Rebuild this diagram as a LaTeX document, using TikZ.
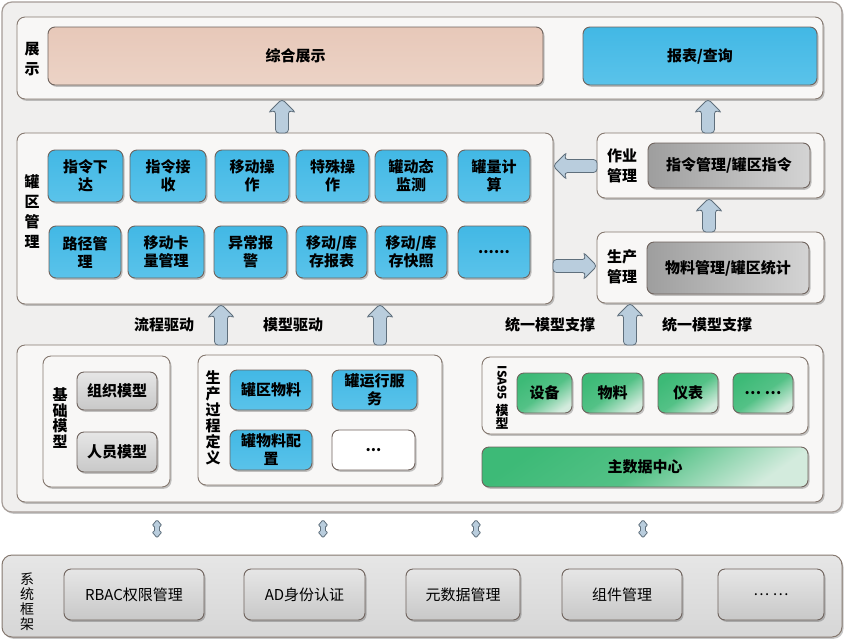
\documentclass[tikz,border=0pt]{standalone}
\usepackage{fontspec}
\setmainfont{Noto Sans CJK SC}
\usetikzlibrary{calc,shadows}
\definecolor{outerfill}{HTML}{F0EFEE}
\definecolor{outerdraw}{HTML}{A59C97}
\definecolor{contfill}{HTML}{F8F7F6}
\definecolor{contdraw}{HTML}{85786F}
\definecolor{btndraw}{HTML}{6F635D}
\definecolor{blueA}{HTML}{42B8E5}
\definecolor{blueB}{HTML}{5AC3EA}
\definecolor{peachA}{HTML}{E7C8B9}
\definecolor{peachB}{HTML}{ECD3C6}
\definecolor{dgrayA}{HTML}{9E9E9E}
\definecolor{dgrayB}{HTML}{D4D4D4}
\definecolor{lgrayA}{HTML}{E6E6E6}
\definecolor{lgrayB}{HTML}{C8C8C8}
\definecolor{greenA}{HTML}{3DBA77}
\definecolor{greenB}{HTML}{D3EBDD}
\definecolor{sysA}{HTML}{E6E6E6}
\definecolor{sysB}{HTML}{D6D6D6}
\definecolor{arrfill}{HTML}{B9CDDD}
\definecolor{arrdraw}{HTML}{5F6F7C}
\newcommand\bx[7]{\node[#2, minimum width={((#5)-(#3))*1pt}, minimum height={((#6)-(#4))*1pt}] (#1) at ({((#3)+(#5))/2},{((#4)+(#6))/2}) {#7};}
\newcommand\fatarrow[3][fatarr]{%
  \path let \p1=(#2), \p2=(#3) in \pgfextra{%
    \pgfmathsetmacro\faang{atan2(\y2-\y1,\x2-\x1)}%
    \pgfmathsetmacro\falen{veclen(\x2-\x1,\y2-\y1)}%
    \xdef\fxang{\faang}\xdef\fxlen{\falen}\xdef\fxx{\x1}\xdef\fxy{\y1}};
  \draw[#1, shift={(\fxx,\fxy)}, rotate=\fxang]
    (0pt,-6.5pt) -- ({\fxlen*1pt-11pt},-6.5pt) -- ({\fxlen*1pt-14pt},-14pt)
    -- (\fxlen pt,0pt) -- ({\fxlen*1pt-14pt},14pt) -- ({\fxlen*1pt-11pt},6.5pt)
    -- (0pt,6.5pt) -- cycle;
}
\newcommand\dblarrow[3][fatarr]{%
  \path let \p1=(#2), \p2=(#3) in \pgfextra{%
    \pgfmathsetmacro\faang{atan2(\y2-\y1,\x2-\x1)}%
    \pgfmathsetmacro\falen{veclen(\x2-\x1,\y2-\y1)}%
    \xdef\fxang{\faang}\xdef\fxlen{\falen}\xdef\fxx{\x1}\xdef\fxy{\y1}};
  \draw[#1, rounded corners=1.2pt, shift={(\fxx,\fxy)}, rotate=\fxang]
    (0pt,0pt) -- (6pt,-5pt) -- (6pt,-2.5pt) -- ({\fxlen*1pt-6pt},-2.5pt) -- ({\fxlen*1pt-6pt},-5pt)
    -- (\fxlen pt,0pt) -- ({\fxlen*1pt-6pt},5pt) -- ({\fxlen*1pt-6pt},2.5pt)
    -- (6pt,2.5pt) -- (6pt,5pt) -- cycle;
}
\tikzset{
  base/.style={rectangle, inner sep=0pt, outer sep=0pt, align=center, text=black,
    font=\fontsize{15}{18}\selectfont\bfseries},
  shad/.style={drop shadow={shadow xshift=1.5pt, shadow yshift=-1.8pt, fill=black, opacity=0.22}},
  outerbox/.style={base, draw=outerdraw, fill=outerfill, rounded corners=10pt, line width=1.2pt, shad},
  cont/.style={base, draw=contdraw, fill=contfill, rounded corners=8pt, line width=0.9pt, shad},
  sysbox/.style={base, draw=contdraw, top color=sysA, bottom color=sysB, rounded corners=10pt, line width=1pt, shad},
  btn/.style={base, draw=btndraw, rounded corners=7pt, line width=0.9pt, shad},
  bluebtn/.style={btn, top color=blueA, bottom color=blueB},
  peachbtn/.style={btn, top color=peachA, bottom color=peachB},
  dgraybtn/.style={btn, left color=dgrayA, right color=dgrayB},
  lgraybtn/.style={btn, top color=lgrayA, bottom color=lgrayB},
  whitebtn/.style={btn, fill=white},
  greenbtn/.style={btn, top color=greenA, bottom color=greenB, middle color=greenA!85!greenB, shading angle=35},
  sysbtn/.style={btn, top color=lgrayA, bottom color=lgrayB, font=\fontsize{15}{18}\selectfont},
  lbl/.style={inner sep=0pt, align=center, text=black, font=\fontsize{15}{20}\selectfont\bfseries},
  fatarr/.style={draw=arrdraw, fill=arrfill, line width=0.8pt, rounded corners=3.5pt},
}
\begin{document}
\begin{tikzpicture}[x=1pt,y=-1pt]
\useasboundingbox (0,0) rectangle (847,641);
\fill[white] (0,0) rectangle (847,641);
% outer frame
\bx{outer}{outerbox}{2}{2}{842}{512}{}
% display layer
\bx{zs}{cont}{17}{17}{823}{99}{}
\node[lbl] (zsl) at (32,59) {展\\示};
\bx{zhzs}{peachbtn}{48}{27}{543}{85}{综合展示}
\bx{bbcx}{bluebtn}{583}{27}{817}{85}{报表/查询}
% tank area management
\bx{gq}{cont}{17}{133}{553}{304}{}
\node[lbl] (gql) at (32,212) {罐\\区\\管\\理};
\bx{b11}{bluebtn}{48}{150}{123}{202}{指令下\\达}
\bx{b12}{bluebtn}{130}{150}{206}{202}{指令接\\收}
\bx{b13}{bluebtn}{215}{150}{289}{202}{移动操\\作}
\bx{b14}{bluebtn}{296}{150}{369}{202}{特殊操\\作}
\bx{b15}{bluebtn}{375}{150}{447}{202}{罐动态\\监测}
\bx{b16}{bluebtn}{458}{150}{530}{202}{罐量计\\算}
\bx{b21}{bluebtn}{49}{226}{121}{278}{路径管\\理}
\bx{b22}{bluebtn}{128}{226}{204}{278}{移动卡\\量管理}
\bx{b23}{bluebtn}{214}{226}{287}{278}{异常报\\警}
\bx{b24}{bluebtn}{296}{226}{367}{278}{移动/库\\存报表}
\bx{b25}{bluebtn}{375}{226}{447}{278}{移动/库\\存快照}
\bx{b26}{bluebtn}{458}{226}{530}{278}{......}
% operation / production management
\bx{zy}{cont}{597}{133}{824}{198}{}
\node[lbl] (zyl) at (622,166) {作业\\管理};
\bx{zyb}{dgraybtn}{648}{143}{810}{188}{指令管理/罐区指令}
\bx{sc}{cont}{597}{232}{824}{303}{}
\node[lbl] (scl) at (622,267) {生产\\管理};
\bx{scb}{dgraybtn}{647}{242}{809}{294}{物料管理/罐区统计}
% middle layer
\bx{mid}{cont}{17}{345}{823}{502}{}
\bx{jc}{cont}{43}{356}{170}{487}{}
\node[lbl, font=\fontsize{15}{15.5}\selectfont\bfseries] (jcl) at (60,418) {基\\础\\模\\型};
\bx{zz}{lgraybtn}{77}{372}{157}{410}{组织模型}
\bx{ry}{lgraybtn}{77}{432}{157}{472}{人员模型}
\bx{gc}{cont}{198}{355}{442}{485}{}
\node[lbl, font=\fontsize{15}{16}\selectfont\bfseries] (gcl) at (213,418) {生\\产\\过\\程\\定\\义};
\bx{gqwl}{bluebtn}{230}{370}{312}{410}{罐区物料}
\bx{gyx}{bluebtn}{332}{370}{417}{410}{罐运行服\\务}
\bx{gwl}{bluebtn}{230}{430}{312}{470}{罐物料配\\置}
\bx{dd1}{whitebtn}{332}{430}{415}{470}{...}
\bx{isa}{cont}{482}{357}{808}{434}{}
\node[inner sep=0pt, rotate=-90, font=\fontsize{12}{12}\selectfont\bfseries] (isal) at (502,383) {ISA95};
\node[lbl, font=\fontsize{13}{13.5}\selectfont\bfseries] (isal2) at (502,417) {模\\型};
\bx{sb}{greenbtn}{517}{373}{572}{413}{设备}
\bx{wl}{greenbtn}{582}{373}{643}{413}{物料}
\bx{yb}{greenbtn}{658}{373}{718}{413}{仪表}
\bx{dd2}{greenbtn}{733}{373}{793}{413}{… …}
\bx{zsj}{greenbtn}{482}{447}{808}{487}{主数据中心}
% labels between layers
\node[lbl] (t1) at (164,325) {流程驱动};
\node[lbl] (t2) at (293,325) {模型驱动};
\node[lbl] (t3) at (550,325) {统一模型支撑};
\node[lbl] (t4) at (707,325) {统一模型支撑};
% system framework
\bx{sys}{sysbox}{2}{555}{842}{637}{}
\node[lbl, font=\fontsize{14}{15}\selectfont] (sysl) at (27,602) {系\\统\\框\\架};
\bx{s1}{sysbtn}{64}{569}{204}{620}{RBAC权限管理}
\bx{s2}{sysbtn}{244}{569}{365}{620}{AD身份认证}
\bx{s3}{sysbtn}{406}{569}{520}{620}{元数据管理}
\bx{s4}{sysbtn}{562}{569}{682}{620}{组件管理}
\bx{s5}{sysbtn}{718}{569}{824}{620}{… …}
% arrows
\fatarrow{282,0 |- gq.north}{282,0 |- zs.south}
\fatarrow{708,0 |- zy.north}{708,0 |- zs.south}
\fatarrow{709,0 |- sc.north}{709,0 |- zy.south}
\fatarrow{221,0 |- mid.north}{221,0 |- gq.south}
\fatarrow{380,0 |- mid.north}{380,0 |- gq.south}
\fatarrow{630,0 |- mid.north}{630,0 |- sc.south}
\fatarrow{zy.west |- 0,166}{gq.east |- 0,166}
\fatarrow{gq.east |- 0,266}{sc.west |- 0,266}
\dblarrow{$(157,0 |- outer.south)!0.18!(157,0 |- sys.north)$}{$(157,0 |- outer.south)!0.6!(157,0 |- sys.north)$}
\dblarrow{$(323,0 |- outer.south)!0.18!(323,0 |- sys.north)$}{$(323,0 |- outer.south)!0.6!(323,0 |- sys.north)$}
\dblarrow{$(476,0 |- outer.south)!0.18!(476,0 |- sys.north)$}{$(476,0 |- outer.south)!0.6!(476,0 |- sys.north)$}
\dblarrow{$(643,0 |- outer.south)!0.18!(643,0 |- sys.north)$}{$(643,0 |- outer.south)!0.6!(643,0 |- sys.north)$}
\end{tikzpicture}
\end{document}
